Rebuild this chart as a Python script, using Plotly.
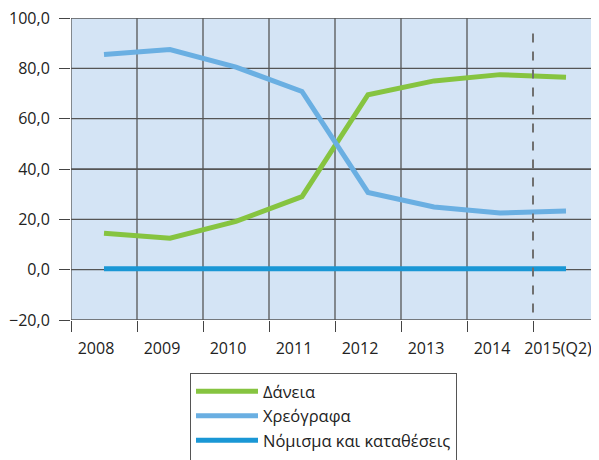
import plotly.graph_objects as go

# Κατηγορίες (έτη) και σειρές δεδομένων
years = ['2008', '2009', '2010', '2011', '2012', '2013', '2014', '2015(Q2)']
daneia = [14.5, 12.5, 19.2, 29.0, 69.5, 75.0, 77.5, 76.5]
xreografa = [85.5, 87.5, 80.5, 70.8, 30.7, 24.9, 22.5, 23.3]
nomisma = [0.4, 0.4, 0.4, 0.2, 0.4, 0.4, 0.4, 0.4]

y_ticks = [-20, 0, 20, 40, 60, 80, 100]

x_pos = list(range(len(years)))
boundaries = [i - 0.5 for i in range(len(years) + 1)]

fig = go.Figure()

series = [
    ('Δάνεια', daneia, '#86c440'),
    ('Χρεόγραφα', xreografa, '#6aafe2'),
    ('Νόμισμα και καταθέσεις', nomisma, '#1a97d5'),
]
for name, vals, color in series:
    fig.add_trace(go.Scatter(
        x=x_pos, y=vals, name=name, mode='lines',
        line=dict(color=color, width=5),
    ))

# κενή γραμμή στο υπόμνημα ώστε το πλαίσιο να συνεχίζει προς τα κάτω
fig.add_trace(go.Scatter(x=[None], y=[None], name=' ', mode='lines',
                         line=dict(color='rgba(0,0,0,0)', width=0),
                         hoverinfo='skip'))

GRID = '#555'

# Πλέγμα: κάθετες γραμμές στα όρια των ετών (εκτός από το τελευταίο τρίμηνο)
for b in boundaries:
    if b == boundaries[-2]:
        continue
    fig.add_vline(x=b, line=dict(color=GRID, width=1.3), layer='below')
# οριζόντιες γραμμές
for v in y_ticks:
    fig.add_hline(y=v, line=dict(color=GRID, width=1.3), layer='below')

# Διακεκομμένη γραμμή πριν το 2015(Q2)
fig.add_shape(type='line', xref='x', yref='y',
              x0=boundaries[-2], x1=boundaries[-2], y0=-17, y1=97,
              line=dict(color='#707070', width=2, dash='dash'), layer='above')

# η σελίδα έχει 8px περιθώριο στο body, οπότε το σχήμα είναι 8px μικρότερο
fig.update_layout(
    width=591, height=452,
    margin=dict(l=63, r=0, t=10, b=140, autoexpand=False),
    paper_bgcolor='white',
    plot_bgcolor='#d4e4f5',
    separators=',.',
    font=dict(family='Open Sans, Noto Sans, sans-serif', size=16, color='#222'),
    xaxis=dict(
        range=[-0.5, 7.5], tickmode='array', tickvals=x_pos, ticktext=years,
        showgrid=False, zeroline=False, ticks='', automargin=False,
        ticklabelshift=-8, ticklabelstandoff=17, ticklabeloverflow='allow',
        minor=dict(tickmode='array', tickvals=boundaries, ticks='outside',
                   ticklen=11, tickcolor='#444', tickwidth=1.3, showgrid=False),
    ),
    yaxis=dict(
        range=[-20, 100], tickmode='array', tickvals=y_ticks,
        tickformat='.1f', showgrid=True, gridcolor=GRID, gridwidth=1.3,
        zeroline=False, ticks='outside', ticklen=11, tickcolor='#444',
        tickwidth=1.3, ticklabelstandoff=6, automargin=False,
        ticklabeloverflow='allow',
    ),
    legend=dict(
        x=(190 - 71) / 528, y=(320 - 373) / 302,
        xanchor='left', yanchor='top',
        bordercolor='#555', borderwidth=1, bgcolor='white',
        font=dict(size=16.5), tracegroupgap=0,
        itemwidth=62,
    ),
    showlegend=True,
)

fig.write_html('out.html')
